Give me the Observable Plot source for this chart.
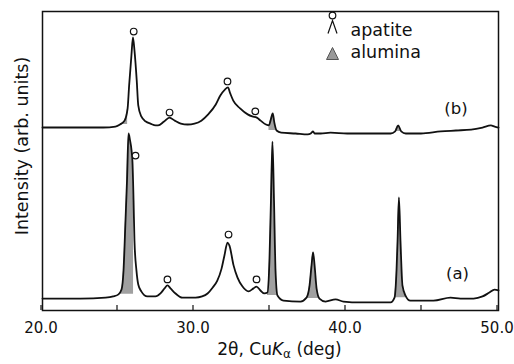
<!DOCTYPE html>
<html><head><meta charset="utf-8">
<script src="https://cdn.jsdelivr.net/npm/d3@7"></script>
<script src="https://cdn.jsdelivr.net/npm/@observablehq/plot@0.6"></script>
<style>html,body{margin:0;padding:0;background:#fff} svg{display:block}</style>
</head><body><div id="chart"></div>
<script>
// 2θ (deg) and intensity (arb. units)
const thetaB = [20.0,22.5,24.0,24.8,25.1,25.4,25.6,25.7,25.85,25.95,26.05,26.2,26.3,26.5,26.8,27.1,27.45,27.6,28.0,28.35,28.7,29.1,29.55,30.0,30.45,30.9,31.4,31.7,32.0,32.2,32.35,32.55,33.0,33.5,33.8,34.1,34.35,34.7,34.9,35.0,35.15,35.25,35.4,35.7,36.65,37.45,37.65,37.8,37.9,38.3,38.95,40.05,41.6,42.9,43.2,43.4,43.6,43.9,44.9,46.2,47.2,48.2,48.95,49.5,49.75,50.0];
const intensityB = [61.2,61.2,61.2,61.5,62.2,63.5,67.6,75.3,85.3,91.3,87.0,76.9,68.6,64.9,63.2,62.5,61.9,61.9,63.2,64.5,63.5,62.5,62.2,62.5,63.5,65.6,68.9,71.9,73.9,74.6,72.6,70.2,67.6,65.6,64.9,64.5,63.5,62.2,61.9,63.5,65.9,62.9,60.2,59.5,59.2,58.9,59.2,59.9,59.2,59.2,59.5,59.2,59.2,59.2,59.9,61.9,59.9,59.2,59.2,59.9,60.2,60.5,61.2,61.9,61.5,61.2];

const thetaA = [20.0,22.5,24.15,24.65,25.0,25.2,25.33,25.46,25.56,25.66,25.76,25.86,25.92,25.99,26.05,26.18,26.3,26.5,26.9,27.43,27.76,28.03,28.22,28.42,28.75,29.2,30.07,30.5,30.86,31.2,31.5,31.78,31.97,32.17,32.3,32.57,32.83,33.16,33.55,33.88,34.08,34.34,34.6,34.8,34.93,35.03,35.13,35.23,35.33,35.46,35.86,36.97,37.37,37.57,37.7,37.8,37.9,38.03,38.22,38.62,39.28,39.8,40.92,42.9,43.16,43.29,43.36,43.45,43.55,43.68,43.88,44.2,45.72,46.84,47.5,48.36,48.95,49.4,49.74,50.0];
const intensityA = [4.0,4.0,4.3,4.7,5.4,7.0,13.4,30.1,43.5,59.2,56.9,53.5,49.5,36.8,23.4,13.4,8.7,6.4,4.7,4.7,5.7,7.4,8.4,7.4,5.7,4.3,4.3,4.7,5.7,7.7,10.0,14.0,18.4,22.7,21.7,15.1,11.0,8.0,6.4,7.4,8.0,6.7,5.7,6.0,16.7,36.8,56.5,36.8,13.4,5.0,3.3,3.0,4.3,8.4,15.1,19.4,15.1,7.4,4.0,3.0,3.7,3.0,2.7,2.7,4.3,13.4,23.4,37.8,23.4,8.4,5.0,3.3,3.3,4.3,4.0,4.0,4.7,6.0,7.0,6.7];

// apatite reflections (open circles)
const apatiteThetaB = [26.0, 28.36, 32.17, 34.0];
const apatiteIntB = [93.3, 66.2, 76.6, 66.6];
const apatiteThetaA = [26.12, 28.22, 32.24, 34.08];
const apatiteIntA = [51.8, 10.4, 25.4, 10.4];

// alumina reflections (shaded), 2θ ranges
const aluminaRangesB = [[25.1, 25.6], [34.9, 35.4], [37.65, 37.9], [43.2, 43.6]];
const aluminaRangesA = [[25.0, 26.0], [34.8, 35.46], [37.37, 38.22], [43.16, 43.88]];

const xTicks = [20, 25, 30, 35, 40, 45, 50];
const seriesLabels = ["(b)", "(a)"];
const seriesLabelTheta = [47.2, 47.3];
const seriesLabelInt = [67.6, 12.4];
const legendLabels = ["apatite", "alumina"];
const xTitle = "2θ, CuKα (deg)";
const yTitle = "Intensity (arb. units)";

const toRows = (t, v) => t.map((x, i) => ({x, y: v[i]}));
const curveB = toRows(thetaB, intensityB);
const curveA = toRows(thetaA, intensityA);
function fills(curve, ranges) {
  const out = [];
  ranges.forEach(([a, b], k) => {
    const pts = curve.filter(d => d.x >= a && d.x <= b);
    const base = d3.min(pts, d => d.y);
    pts.forEach(d => out.push({x: d.x, y1: base, y2: d.y, k}));
  });
  return out;
}
const fillB = fills(curveB, aluminaRangesB);
const fillA = fills(curveA, aluminaRangesA);

const caret = {draw(c) { c.moveTo(-4.5, 6.5); c.lineTo(0, -6.5); c.lineTo(4.5, 6.5); }};
const tri = {draw(c) { c.moveTo(-6, 6); c.lineTo(0, -6); c.lineTo(6, 6); c.closePath(); }};

const ink = "#111";
const chart = Plot.plot({
  width: 514, height: 364,
  marginLeft: 42, marginRight: 16, marginTop: 11, marginBottom: 54,
  style: {fontFamily: "DejaVu Sans", fontSize: "16px", color: ink, background: "#fff"},
  x: {domain: [20, 50]},
  y: {domain: [0, 100], axis: null},
  marks: [
    Plot.areaY(fillB, {x: "x", y1: "y1", y2: "y2", z: "k", fill: "#a0a0a0", curve: "monotone-x"}),
    Plot.areaY(fillA, {x: "x", y1: "y1", y2: "y2", z: "k", fill: "#a0a0a0", curve: "monotone-x"}),
    Plot.line(curveB, {x: "x", y: "y", stroke: ink, strokeWidth: 1.8, curve: "monotone-x"}),
    Plot.line(curveA, {x: "x", y: "y", stroke: ink, strokeWidth: 1.8, curve: "monotone-x"}),
    Plot.dot(toRows(apatiteThetaB, apatiteIntB), {x: "x", y: "y", r: 3.3, stroke: ink, fill: "#fff", strokeWidth: 1.2}),
    Plot.dot(toRows(apatiteThetaA, apatiteIntA), {x: "x", y: "y", r: 3.3, stroke: ink, fill: "#fff", strokeWidth: 1.2}),
    Plot.text(seriesLabels, {x: (d, i) => seriesLabelTheta[i], y: (d, i) => seriesLabelInt[i], text: d => d, fontSize: 16.5, fill: ink}),
    // legend
    Plot.dot([legendLabels[0]], {frameAnchor: "top-left", dx: 290, dy: 4, r: 3.3, stroke: ink, fill: "#fff", strokeWidth: 1.2}),
    Plot.dot([legendLabels[0]], {frameAnchor: "top-left", dx: 290, dy: 15.5, symbol: caret, r: 4, stroke: ink, fill: "none", strokeWidth: 1.2}),
    Plot.dot([legendLabels[1]], {frameAnchor: "top-left", dx: 290, dy: 42, symbol: tri, r: 4, stroke: "#555", fill: "#999", strokeWidth: 1}),
    Plot.text([legendLabels[0]], {frameAnchor: "top-left", dx: 308, dy: 19, text: d => d, textAnchor: "start", lineAnchor: "middle", fontSize: 17.5, fill: ink}),
    Plot.text([legendLabels[1]], {frameAnchor: "top-left", dx: 308, dy: 41, text: d => d, textAnchor: "start", lineAnchor: "middle", fontSize: 17.5, fill: ink}),
    // axes
    Plot.axisX({ticks: xTicks, tickSize: -5, tickPadding: 17, dx: -1.5, tickFormat: d => d % 10 === 0 ? d.toFixed(1) : "", fontSize: 15, stroke: ink, fill: ink, strokeWidth: 1.2, label: null}),
    Plot.text([xTitle], {frameAnchor: "bottom", dx: 9, dy: 39, text: d => d, lineAnchor: "middle", fontSize: 17, fill: ink}),
    Plot.text([yTitle], {frameAnchor: "left", dx: -20, dy: -15, rotate: -90, text: d => d, textAnchor: "middle", lineAnchor: "middle", fontSize: 17.5, fill: ink}),
    Plot.frame({stroke: ink, strokeWidth: 1.5})
  ]
});
document.getElementById("chart").appendChild(chart);

// italic K and subscript α in the x-axis title
d3.select(chart).selectAll("text").filter(function() { return this.textContent === xTitle; }).each(function() {
  const t = d3.select(this);
  t.text(null);
  t.append("tspan").text("2θ, Cu");
  t.append("tspan").attr("font-style", "italic").text("K");
  t.append("tspan").attr("font-size", "12px").attr("dy", "3").text("α");
  t.append("tspan").attr("dy", "-3").text(" (deg)");
});
</script>
</body></html>
